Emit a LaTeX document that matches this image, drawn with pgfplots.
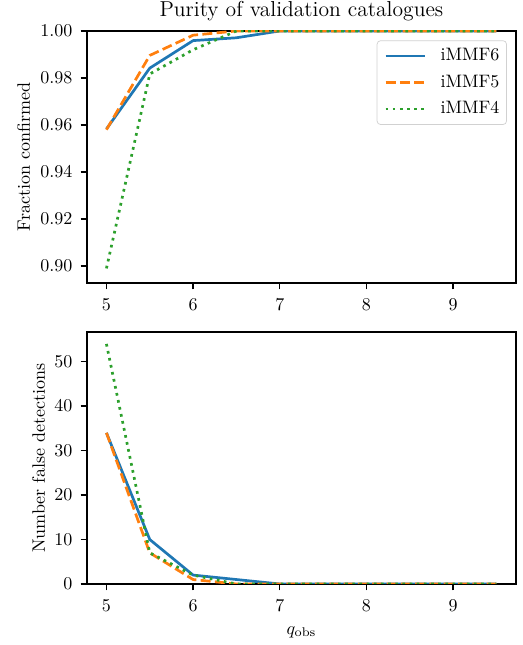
\documentclass[border=0pt]{standalone}
\usepackage{pgfplots}
\usepackage{pgfplotstable}
\pgfplotsset{compat=1.18}
\definecolor{c1}{HTML}{1F77B4}
\definecolor{c2}{HTML}{FF7F0E}
\definecolor{c3}{HTML}{2CA02C}

\pgfplotstableread{
q   f6     f5     f4     n6 n5 n4
5.0 0.9583 0.9580 0.8990 34 34 54
5.5 0.9842 0.9896 0.9817 10 7  7
6.0 0.9959 0.9982 0.9920 2  1  2
6.5 0.9971 1.0000 1.0000 1  0  0
7.0 1.0000 1.0000 1.0000 0  0  0
7.5 1.0000 1.0000 1.0000 0  0  0
8.0 1.0000 1.0000 1.0000 0  0  0
8.5 1.0000 1.0000 1.0000 0  0  0
9.0 1.0000 1.0000 1.0000 0  0  0
9.5 1.0000 1.0000 1.0000 0  0  0
}\data

\pgfplotsset{
  panel/.style={
    scale only axis, width=238.3pt, height=140pt,
    xmin=4.775, xmax=9.725, xtick={5,6,7,8,9},
    tick align=outside, xtick pos=left, ytick pos=left,
    major tick length=3.5pt,
    tick style={line width=0.8pt, black},
    axis line style={line width=0.8pt},
    yticklabel style={anchor=east, inner sep=0pt, xshift=-4.4pt},
    xticklabel style={anchor=north, inner sep=0pt, yshift=-5.4pt},
    label style={inner sep=0pt, font=\normalsize},
  },
  s6/.style={c1, line width=1.5pt, line join=round, solid},
  s5/.style={c2, line width=1.5pt, line join=round, dash pattern=on 5.55pt off 2.4pt},
  s4/.style={c3, line width=1.5pt, line join=round, dash pattern=on 1.5pt off 2.475pt},
}

\begin{document}
\begin{tikzpicture}
\useasboundingbox (-48.3pt,-201.1pt) rectangle (241.7pt,157.2pt);
\begin{axis}[panel, at={(0,0)}, anchor=south west,
  ymin=0.8928, ymax=1.0,
  ytick={0.90,0.92,0.94,0.96,0.98,1.00},
  scaled y ticks=false,
  yticklabel style={/pgf/number format/fixed, /pgf/number format/fixed zerofill, /pgf/number format/precision=2},
  title={Purity of validation catalogues},
  every axis title shift=0pt,
  title style={at={(0.5,1)}, anchor=base, yshift=8.3pt, font=\large, inner sep=0pt},
  ylabel={Fraction confirmed},
  ylabel style={at={(axis description cs:-0.133,0.5)}, anchor=base},
  legend cell align=left,
  legend image code/.code={\draw[#1] (0pt,0pt) -- (22pt,0pt);},
  legend style={at={(1,1)}, anchor=north east, xshift=-5pt, yshift=-5.2pt,
    draw=black!18, rounded corners=2pt, fill=white, fill opacity=0.8, text opacity=1, draw opacity=1,
    inner xsep=4pt, inner ysep=4.4pt, row sep=6.4pt, font=\normalsize,
    nodes={inner sep=0pt},
    /tikz/every odd column/.append style={column sep=7.8pt}},
]
\addplot[s6] table[x=q, y=f6] {\data};
\addlegendentry{iMMF6}
\addplot[s5] table[x=q, y=f5] {\data};
\addlegendentry{iMMF5}
\addplot[s4] table[x=q, y=f4] {\data};
\addlegendentry{iMMF4}
\end{axis}
\begin{axis}[panel, at={(0,-167.2pt)}, anchor=south west,
  ymin=0, ymax=56.7,
  ytick={0,10,20,30,40,50},
  ylabel={Number false detections},
  ylabel style={at={(axis description cs:-0.0978,0.5)}, anchor=base},
  xlabel={$q_{\mathrm{obs}}$},
  xlabel style={at={(axis description cs:0.5,-0.1986)}, anchor=base},
]
\addplot[s6] table[x=q, y=n6] {\data};
\addplot[s5] table[x=q, y=n5] {\data};
\addplot[s4] table[x=q, y=n4] {\data};
\end{axis}
\end{tikzpicture}
\end{document}
